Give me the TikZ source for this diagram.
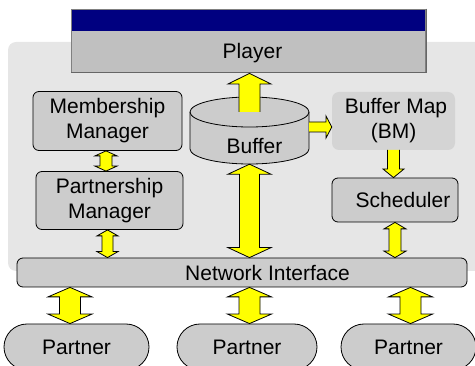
\documentclass[tikz,border=0pt]{standalone}
\usepackage{fontspec}
\setmainfont{Liberation Sans}
\usetikzlibrary{calc}
\definecolor{bgc}{HTML}{E6E6E6}
\definecolor{boxc}{HTML}{CCCCCC}
\definecolor{bmc}{HTML}{D4D4D4}
\definecolor{plc}{HTML}{C0C0C0}
\definecolor{navyc}{HTML}{000080}
\definecolor{ylw}{HTML}{FFFF00}
\tikzset{
  txt/.style={font=\fontsize{21}{25}\selectfont, align=center},
  box/.style={txt, rectangle, rounded corners=6pt, fill=boxc, draw=black, line width=0.8pt, inner sep=0pt},
  bmbox/.style={txt, rectangle, rounded corners=7pt, fill=bmc, draw=none, inner sep=0pt},
  partnerbox/.style={txt, rectangle, rounded corners=23pt, fill=boxc, draw=black, line width=0.8pt, inner sep=0pt, minimum height=46pt},
  fat/.style={fill=ylw, draw=black, line width=0.8pt, line join=miter},
}
% top tip, bottom tip, shaft half, head half, head length
\newcommand\fatdbl[5]{%
  \draw[fat] (#1) -- ($(#1)+(#4,#5)$) -- ($(#1)+(#3,#5)$) -- ($(#2)+(#3,-#5)$) -- ($(#2)+(#4,-#5)$) -- (#2)
    -- ($(#2)+(-#4,-#5)$) -- ($(#2)+(-#3,-#5)$) -- ($(#1)+(-#3,#5)$) -- ($(#1)+(-#4,#5)$) -- cycle;}
\begin{document}
\begin{tikzpicture}[x=1pt,y=-1pt]
\useasboundingbox (0,0) rectangle (475,366);
% background panel
\fill[bgc, rounded corners=8pt] (8,42) rectangle (484,271);

% player
\node[rectangle, fill=plc, draw=gray, line width=0.8pt, minimum width=354pt, minimum height=63pt, inner sep=0pt] (player) at (248.5,40.5) {};
\fill[navyc] ($(player.north west)+(1,1)$) rectangle ($(player.north east)+(-1,22)$);
\draw[black!60, line width=0.8pt] (player.north east) -- (player.south east) -- (player.south west);
\node[txt] (playertxt) at (252.5,53) {Player};

% boxes
\node[box, minimum width=149pt, minimum height=59pt] (mm) at (107.5,121) {Membership\\Manager};
\node[box, minimum width=147pt, minimum height=58pt] (pm) at (109.5,200.5) {Partnership\\Manager};
\node[bmbox, minimum width=123pt, minimum height=58pt] (bm) at (393.5,121) {\hspace*{5pt}Buffer Map\\(BM)};
\node[box, minimum width=126pt, minimum height=44pt] (sched) at (395,200) {\hspace*{16pt}Scheduler};
\node[box, minimum width=450pt, minimum height=29pt] (ni) at (242,272.5) {\hspace*{51pt}Network Interface};

% buffer cylinder
\node[rectangle, minimum width=119pt, minimum height=67pt, inner sep=0pt] (buffer) at (249.5,130.5) {};
\path[fill=boxc, draw=black, line width=0.8pt] (190,112) -- (190,149)
  arc[start angle=180, end angle=0, x radius=59.5, y radius=15] -- (309,112)
  arc[start angle=0, end angle=-180, x radius=59.5, y radius=15] -- cycle;
\draw[line width=0.8pt] (190,112) arc[start angle=180, end angle=0, x radius=59.5, y radius=15];
\node[txt] (buffertxt) at (254.5,146) {Buffer};

% partners
\node[partnerbox, minimum width=145pt] (p1) at (76.5,347) {Partner};
\node[partnerbox, minimum width=140pt] (p2) at (247,347) {Partner};
\node[partnerbox, minimum width=135pt] (p3) at (408.5,347) {Partner};

% single arrows
\coordinate (uptip) at (249.5,0 |- player.south);
\path[fat] (239,112) -- (239,84) -- (228,84) -- ([yshift=-1pt]uptip) -- (271,84) -- (260,84) -- (260,112);
\coordinate (rtip) at (bm.west |- 0,127);
\path[fat] (309,122) -- (326,122) -- (326,116) -- (rtip) -- (326,138) -- (326,132) -- (309,132);
\coordinate (dtip) at (393.5,0 |- sched.north);
\path[fat] (387.5,150) -- (387.5,169) -- (383,169) -- (dtip) -- (404,169) -- (399.5,169) -- (399.5,150);

% double arrows
\coordinate (a1t) at (106,0 |- mm.south);   \coordinate (a1b) at (106,0 |- pm.north);
\fatdbl{a1t}{a1b}{6}{11}{5}
\coordinate (a2t) at (107.5,0 |- pm.south); \coordinate (a2b) at (107.5,0 |- ni.north);
\fatdbl{a2t}{a2b}{5.5}{10.5}{6}
\coordinate (a3t) at (249.5,0 |- buffer.south); \coordinate (a3b) at (249.5,0 |- ni.north);
\fatdbl{a3t}{a3b}{10}{21.5}{10}
\coordinate (a4t) at (395,0 |- sched.south); \coordinate (a4b) at (395,0 |- ni.north);
\fatdbl{a4t}{a4b}{6}{11}{6.5}
\coordinate (a5t) at (70,0 |- ni.south); \coordinate (a5b) at (70,0 |- p1.north);
\fatdbl{a5t}{a5b}{10.5}{22}{9.5}
\coordinate (a6t) at (249.5,0 |- ni.south); \coordinate (a6b) at (249.5,0 |- p2.north);
\fatdbl{a6t}{a6b}{10.5}{22}{9.5}
\coordinate (a7t) at (410.5,0 |- ni.south); \coordinate (a7b) at (410.5,0 |- p3.north);
\fatdbl{a7t}{a7b}{10.5}{22}{9.5}
\end{tikzpicture}
\end{document}
